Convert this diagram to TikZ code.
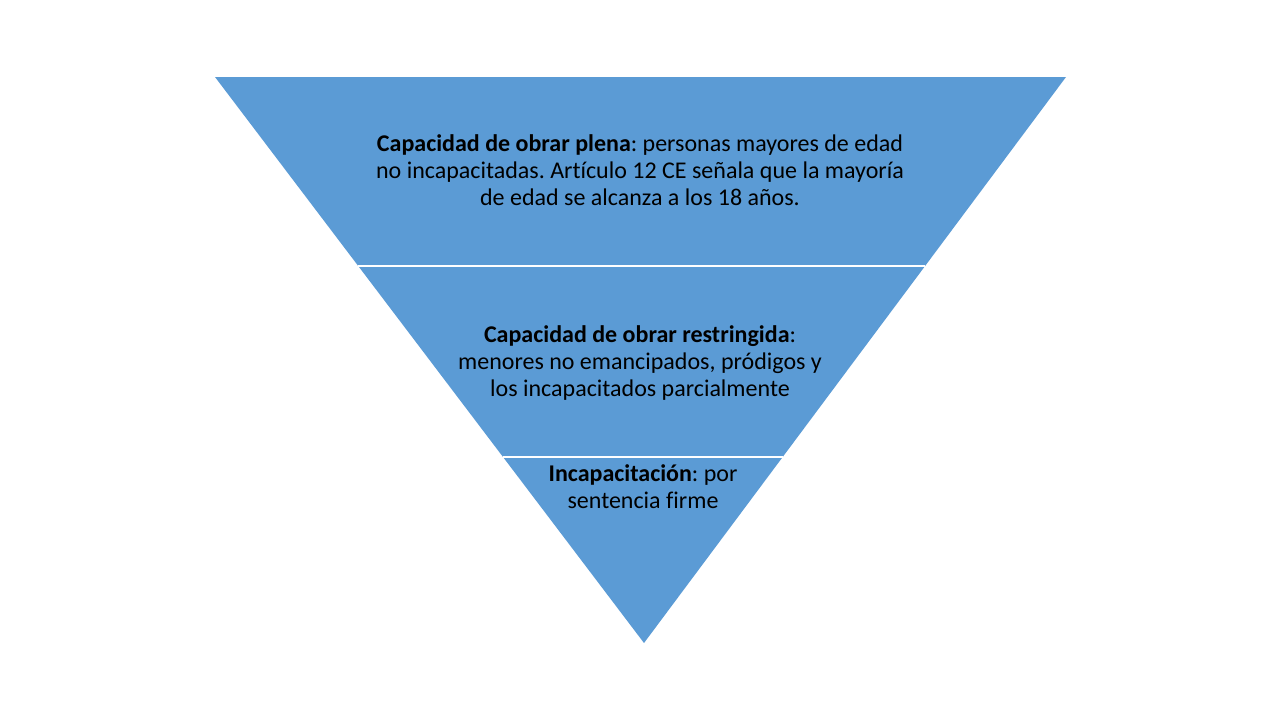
\documentclass[tikz,border=0pt]{standalone}
\usepackage{fontspec}
\setmainfont[Ligatures=NoCommon]{Carlito}
\usetikzlibrary{calc}
\definecolor{bandblue}{HTML}{5B9BD5}
\tikzset{
  band/.style={fill=bandblue, draw=none},
  gapline/.style={draw=white, line width=1.6pt},
  label/.style={align=center, font=\fontsize{24}{27}\selectfont, text=black, inner sep=0pt}
}
\frenchspacing
\begin{document}
\begin{tikzpicture}[x=1pt,y=-1pt]
\useasboundingbox[fill=white] (0,0) rectangle (1280,720);
\coordinate (TL) at (215,77);
\coordinate (TR) at (1066,77);
\coordinate (AP) at (644,643);
\coordinate (L1) at ($(TL)!0.3339!(AP)$);
\coordinate (R1) at ($(TR)!0.3339!(AP)$);
\coordinate (L2) at ($(TL)!0.6714!(AP)$);
\coordinate (R2) at ($(TR)!0.6714!(AP)$);
\path[band] (TL) -- (TR) -- (AP) -- cycle;
\draw[gapline] (L1) -- (R1);
\draw[gapline] (L2) -- (R2);
\node[label] (top) at (640,170) {\textbf{Capacidad de obrar plena}: personas mayores de edad\\no incapacitadas. Artículo 12 CE señala que la mayoría\\de edad se alcanza a los 18 años.};
\node[label] (mid) at (640,363) {\textbf{Capacidad de obrar restringida}:\\menores no emancipados, pródigos y\\los incapacitados parcialmente};
\node[label] (bot) at (643,487) {\textbf{Incapacitación}: por\\sentencia firme};
\end{tikzpicture}
\end{document}
